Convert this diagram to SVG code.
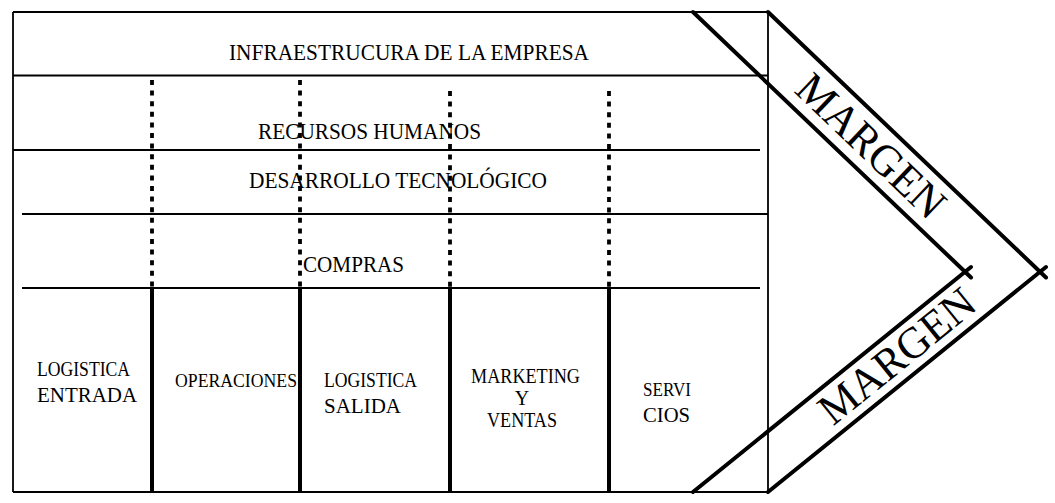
<svg xmlns="http://www.w3.org/2000/svg" width="1055" height="503" viewBox="0 0 1055 503">
<style>
.thin{stroke:#000;stroke-width:1.8;fill:none}
.dot{stroke:#000;stroke-width:3.8;stroke-dasharray:5 5.6;fill:none}
.solid{stroke:#000;stroke-width:4;fill:none}
.diag{stroke:#000;stroke-width:4;fill:none;stroke-linecap:round}
text{font-family:"Liberation Serif","Times New Roman",serif;fill:#000}
.big{font-size:23.5px}
.sm{font-size:20px}
.mid{font-size:21.5px}
.mg{font-size:44px}
</style>
<rect width="1055" height="503" fill="#fff"/>
<g id="frame">
<line class="thin" x1="13" y1="12" x2="768" y2="12"/>
<line class="thin" x1="13" y1="492" x2="768" y2="492"/>
<line class="thin" x1="13" y1="12" x2="13" y2="492"/>
<line class="thin" x1="768" y1="12" x2="768" y2="492"/>
<line class="thin" x1="13" y1="75.5" x2="768" y2="75.5"/>
<line class="thin" x1="13" y1="150" x2="760" y2="150"/>
<line class="thin" x1="22" y1="214" x2="768" y2="214"/>
<line class="thin" x1="22" y1="288" x2="760" y2="288"/>
</g>
<g id="connectors">
<line class="dot" x1="152" y1="80" x2="152" y2="288"/>
<line class="dot" x1="300" y1="80" x2="300" y2="288"/>
<line class="dot" x1="450" y1="91" x2="450" y2="288"/>
<line class="dot" x1="609" y1="91" x2="609" y2="288"/>
<line class="solid" x1="152" y1="288" x2="152" y2="492"/>
<line class="solid" x1="300" y1="288" x2="300" y2="492"/>
<line class="solid" x1="450" y1="288" x2="450" y2="492"/>
<line class="solid" x1="609" y1="288" x2="609" y2="492"/>
<line class="diag" x1="693" y1="12" x2="971" y2="277.5"/>
<line class="diag" x1="693" y1="492" x2="971" y2="267"/>
<line class="diag" x1="768" y1="12" x2="1046" y2="277.5"/>
<line class="diag" x1="768" y1="492" x2="1046" y2="267"/>
</g>
<g id="infraestructura"><text class="big" x="229" y="60" textLength="360" lengthAdjust="spacingAndGlyphs">INFRAESTRUCURA DE LA EMPRESA</text></g>
<g id="recursos"><text class="big" x="258" y="139" textLength="223" lengthAdjust="spacingAndGlyphs">RECURSOS HUMANOS</text></g>
<g id="desarrollo"><text class="big" x="249" y="188" textLength="298" lengthAdjust="spacingAndGlyphs">DESARROLLO TECNOLÓGICO</text></g>
<g id="compras"><text class="big" x="303" y="272" textLength="101" lengthAdjust="spacingAndGlyphs">COMPRAS</text></g>
<g id="log-entrada">
<text class="sm" x="37" y="376" textLength="93" lengthAdjust="spacingAndGlyphs">LOGISTICA</text>
<text class="mid" x="37" y="402" textLength="100" lengthAdjust="spacingAndGlyphs">ENTRADA</text>
</g>
<g id="operaciones"><text style="font-size:18.5px" x="175" y="387" textLength="122" lengthAdjust="spacingAndGlyphs">OPERACIONES</text></g>
<g id="log-salida">
<text class="sm" x="324" y="387" textLength="93" lengthAdjust="spacingAndGlyphs">LOGISTICA</text>
<text class="mid" x="324" y="413" textLength="77" lengthAdjust="spacingAndGlyphs">SALIDA</text>
</g>
<g id="marketing">
<text class="sm" x="471" y="383" textLength="109" lengthAdjust="spacingAndGlyphs">MARKETING</text>
<text class="sm" x="522" y="405" text-anchor="middle">Y</text>
<text class="sm" x="487" y="427" textLength="70" lengthAdjust="spacingAndGlyphs">VENTAS</text>
</g>
<g id="servicios">
<text style="font-size:18px" x="643" y="396" textLength="48" lengthAdjust="spacingAndGlyphs">SERVI</text>
<text class="mid" x="643" y="422" textLength="47" lengthAdjust="spacingAndGlyphs">CIOS</text>
</g>
<g id="margen-top"><text class="mg" transform="translate(871,146) rotate(43.7)" x="0" y="14.5" text-anchor="middle" textLength="188" lengthAdjust="spacingAndGlyphs">MARGEN</text></g>
<g id="margen-bottom"><text class="mg" transform="translate(897,356) rotate(-39)" x="0" y="14.5" text-anchor="middle" textLength="188" lengthAdjust="spacingAndGlyphs">MARGEN</text></g>
</svg>
